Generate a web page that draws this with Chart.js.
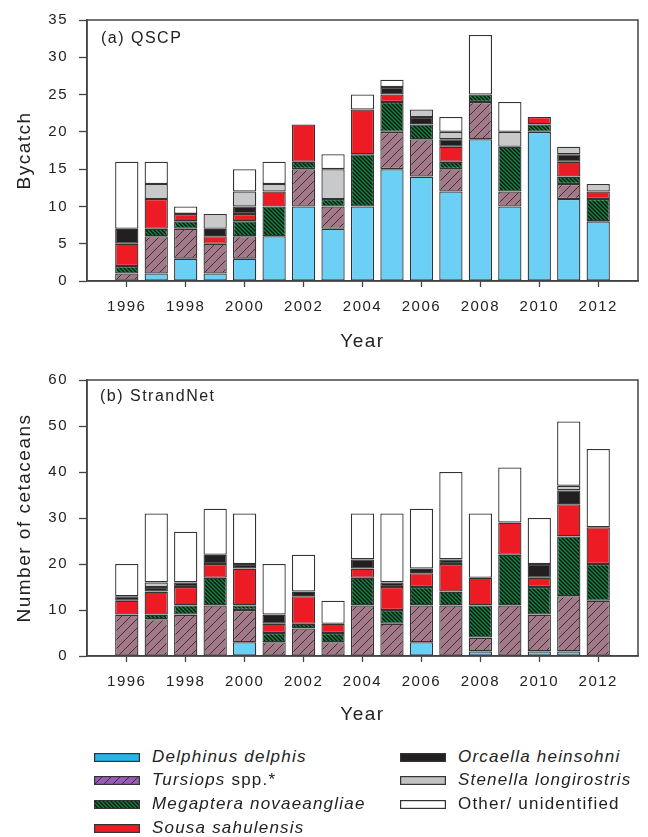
<!DOCTYPE html>
<html>
<head>
<meta charset="utf-8">
<script src="https://cdn.jsdelivr.net/npm/chart.js@4.4.1/dist/chart.umd.min.js"></script>
<style>
  html, body { margin: 0; padding: 0; background: #fff; }
  body { width: 648px; height: 837px; position: relative; overflow: hidden;
         font-family: 'Liberation Sans', Arial, sans-serif; color: #222; }
  .box { position: absolute; left: 0; width: 648px; }
  .panel { position: absolute; font-size: 16px; letter-spacing: 1.5px; line-height: 20px; white-space: nowrap; }
  .leg { position: absolute; height: 24px; display: flex; align-items: center; white-space: nowrap;
         font-size: 17px; letter-spacing: 1.2px; }
  .leg canvas { display: block; margin-right: 12px; }
  .leg i { font-style: italic; }
</style>
</head>
<body>
<div class="box" style="top:0;height:360px"><canvas id="chartA"></canvas></div>
<div class="box" style="top:360px;height:380px"><canvas id="chartB"></canvas></div>
<div class="panel" style="left:101px;top:28px">(a) QSCP</div>
<div class="panel" style="left:100px;top:386px">(b) StrandNet</div>
<div id="legend"></div>
<script>
// ---------------- data ----------------
const years = [1996,1997,1998,1999,2000,2001,2002,2003,2004,2005,2006,2007,2008,2009,2010,2011,2012];
const xTickValues = [1996,1998,2000,2002,2004,2006,2008,2010,2012];
const speciesNames = ['Delphinus delphis','Tursiops spp.*','Megaptera novaeangliae','Sousa sahulensis',
                      'Orcaella heinsohni','Stenella longirostris','Other/ unidentified'];

// (a) QSCP bycatch
const qDelphinus = [0,1,3,1,3,6,10,7,10,15,14,12,19,10,20,11,8];
const qTursiops  = [1,5,4,4,3,0,5,3,0,5,5,3,5,2,0,2,0];
const qMegaptera = [1,1,1,0,2,4,1,1,7,4,2,1,1,6,1,1,3];
const qSousa     = [3,4,1,1,1,2,5,0,6,1,0,2,0,0,1,2,1];
const qOrcaella  = [2,0,0,1,1,0,0,0,0,1,1,1,0,0,0,1,0];
const qStenella  = [0,2,0,2,2,1,0,4,0,0,1,1,0,2,0,1,1];
const qOther     = [9,3,1,0,3,3,0,2,2,1,0,2,8,4,0,0,0];
const qYTicks = [0,5,10,15,20,25,30,35];

// (b) StrandNet
const sDelphinus = [0,0,0,0,3,0,0,0,0,0,3,0,1,0,1,1,0];
const sTursiops  = [9,8,9,11,7,3,6,3,11,7,8,11,3,11,8,12,12];
const sMegaptera = [0,1,2,6,1,2,1,2,6,3,4,3,7,11,6,13,8];
const sSousa     = [3,5,4,3,8,2,6,2,2,5,3,6,6,7,2,7,8];
const sOrcaella  = [1,1,1,2,1,2,1,0,2,1,1,1,0,0,3,3,0];
const sStenella  = [0,1,0,0,0,0,0,0,0,0,0,0,0,0,0,1,0];
const sOther     = [7,15,11,10,11,11,8,5,10,15,13,19,14,12,10,14,17];
const sYTicks = [0,10,20,30,40,50,60];

// ---------------- styles ----------------
function makePattern(bg, dir, size, lineColor, lw) {
  const c = document.createElement('canvas');
  c.width = size; c.height = size;
  const g = c.getContext('2d');
  g.fillStyle = bg; g.fillRect(0, 0, size, size);
  g.strokeStyle = lineColor; g.lineWidth = lw;
  g.beginPath();
  if (dir === '/') {
    for (let k = -1; k <= 1; k++) { g.moveTo(k*size - 1, size + 1); g.lineTo(k*size + size + 1, -1); }
  } else {
    for (let k = -1; k <= 1; k++) { g.moveTo(k*size - 1, -1); g.lineTo(k*size + size + 1, size + 1); }
  }
  g.stroke();
  return g.createPattern(c, 'repeat');
}
const barFills = [
  '#6ccff6',
  makePattern('#a37888', '/', 9, '#2a2a2a', 0.9),
  makePattern('#0d8a45', '\\', 4, '#111', 1.4),
  '#ed1c24',
  '#231f20',
  '#c8c9cb',
  '#ffffff'
];
const legendFills = [
  '#22b7ea',
  makePattern('#9a5cb4', '/', 9, '#2a2a2a', 0.9),
  makePattern('#0d8a45', '\\', 4, '#111', 1.4),
  '#ed1c24',
  '#231f20',
  '#c0c1c3',
  '#ffffff'
];
const edge = '#333';

function buildDatasets(series) {
  return series.map((vals, i) => ({
    label: speciesNames[i],
    data: vals.map((v, j) => ({ x: years[j], y: v === 0 ? null : v })),
    backgroundColor: barFills[i],
    borderColor: edge,
    borderWidth: 1.3,
    borderSkipped: false,
    categoryPercentage: 1,
    barPercentage: 0.79,
    stack: 's'
  }));
}

const spacingPlugin = {
  id: 'spacing',
  beforeLayout(chart) { chart.ctx.letterSpacing = '1.5px'; },
  beforeDraw(chart) { chart.ctx.letterSpacing = '1.5px'; },
  afterDatasetsDraw(chart) {
    const a = chart.chartArea, ctx = chart.ctx;
    ctx.save();
    ctx.strokeStyle = '#444'; ctx.lineWidth = 1.5;
    ctx.strokeRect(a.left, a.top, a.right - a.left, a.bottom - a.top);
    ctx.restore();
  }
};

function makeChart(id, series, yTicks, yTitle, padTop, xAxisH, yearPadBottom) {
  const yMax = yTicks[yTicks.length - 1];
  return new Chart(document.getElementById(id), {
    type: 'bar',
    data: { datasets: buildDatasets(series) },
    plugins: [spacingPlugin],
    options: {
      responsive: true, maintainAspectRatio: false, animation: false, devicePixelRatio: 1,
      layout: { padding: { top: padTop, right: 10, bottom: 0, left: 0 } },
      plugins: { legend: { display: false }, tooltip: { enabled: false } },
      scales: {
        x: {
          type: 'linear', min: 1994.65, max: 2013.35, offset: false,
          grid: { display: true, offset: false, drawOnChartArea: false, drawTicks: true, tickLength: 6, tickColor: '#444', tickWidth: 1.3 },
          border: { display: true, color: '#444', width: 1.5 },
          afterBuildTicks: s => { s.ticks = xTickValues.map(v => ({ value: v })); },
          afterFit: s => { s.height = xAxisH; },
          ticks: { autoSkip: false, maxRotation: 0, padding: 11, color: '#222',
                   font: { family: "'Liberation Sans', Arial, sans-serif", size: 15 },
                   callback: v => String(v) },
          title: { display: true, text: 'Year', color: '#222',
                   font: { family: "'Liberation Sans', Arial, sans-serif", size: 19 },
                   padding: { top: 0, bottom: yearPadBottom } }
        },
        y: {
          stacked: true, min: 0, max: yMax,
          grid: { display: true, drawOnChartArea: false, drawTicks: true, tickLength: 8, tickColor: '#444', tickWidth: 1.3 },
          border: { display: true, color: '#444', width: 1.5 },
          afterBuildTicks: s => { s.ticks = yTicks.map(v => ({ value: v })); },
          afterFit: s => { s.width = 87; },
          ticks: { padding: 11, color: '#222',
                   font: { family: "'Liberation Sans', Arial, sans-serif", size: 15 },
                   callback: v => String(v) },
          title: { display: true, text: yTitle, color: '#222',
                   font: { family: "'Liberation Sans', Arial, sans-serif", size: 19 },
                   padding: { top: 13.6, bottom: 0 } }
        }
      }
    }
  });
}

makeChart('chartA', [qDelphinus,qTursiops,qMegaptera,qSousa,qOrcaella,qStenella,qOther],
          qYTicks, 'Bycatch', 15, 79, 6.6);
makeChart('chartB', [sDelphinus,sTursiops,sMegaptera,sSousa,sOrcaella,sStenella,sOther],
          sYTicks, 'Number of cetaceans', 12, 84, 13.6);

// ---------------- legend ----------------
const legendHtml = [
  '<i>Delphinus delphis</i>',
  '<i>Tursiops</i> spp.*',
  '<i>Megaptera novaeangliae</i>',
  '<i>Sousa sahulensis</i>',
  '<i>Orcaella heinsohni</i>',
  '<i>Stenella longirostris</i>',
  'Other/ unidentified'
];
const legendPos = [[94,757],[94,780],[94,804],[94,828],[400,757],[400,780],[400,804]];
const legRoot = document.getElementById('legend');
legendHtml.forEach((html, i) => {
  const d = document.createElement('div');
  d.className = 'leg';
  d.style.left = legendPos[i][0] + 'px';
  d.style.top = (legendPos[i][1] - 12) + 'px';
  const c = document.createElement('canvas');
  c.width = 46; c.height = 9;
  const g = c.getContext('2d');
  g.fillStyle = legendFills[i]; g.fillRect(0, 0, 46, 9);
  g.strokeStyle = '#333'; g.lineWidth = 1.2; g.strokeRect(0.6, 0.6, 44.8, 7.8);
  d.appendChild(c);
  const t = document.createElement('span');
  t.innerHTML = html;
  d.appendChild(t);
  legRoot.appendChild(d);
});
</script>
</body>
</html>
